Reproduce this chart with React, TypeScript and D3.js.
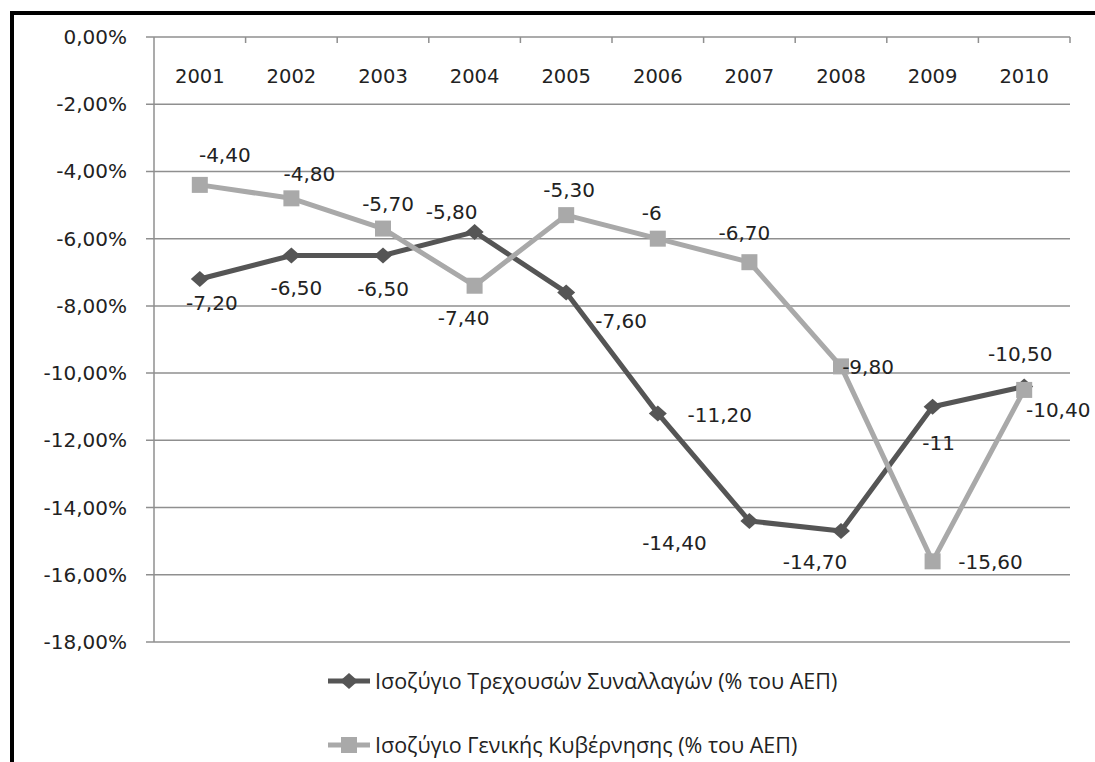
import React from "react";
import * as d3 from "d3";

const years = ["2001", "2002", "2003", "2004", "2005", "2006", "2007", "2008", "2009", "2010"];
const currentAccount = [-7.2, -6.5, -6.5, -5.8, -7.6, -11.2, -14.4, -14.7, -11, -10.4];
const govBalance = [-4.4, -4.8, -5.7, -7.4, -5.3, -6, -6.7, -9.8, -15.6, -10.5];
const yTicks = [0, -2, -4, -6, -8, -10, -12, -14, -16, -18];
const seriesNames = [
  "Ισοζύγιο Τρεχουσών Συναλλαγών (% του ΑΕΠ)",
  "Ισοζύγιο Γενικής Κυβέρνησης (% του ΑΕΠ)",
];

// label offsets (layout only) relative to the point
const caOffsets: [number, number][] = [
  [12, 24], [5, 33], [0, 34], [-23, -20], [55, 29], [62, 2], [-75, 22], [-26, 31], [6, 36], [34, 23],
];
const gvOffsets: [number, number][] = [
  [25, -30], [18, -24], [5, -25], [-11, 32], [3, -25], [-6, -26], [-5, -29], [27, 1], [58, 1], [-4, -36],
];

const W = 1095;
const H = 762;
const left = 154;
const right = 1070;
const top = 37;
const bottom = 642;

const fmt = (v: number) =>
  Number.isInteger(v) ? String(v) : v.toFixed(2).replace(".", ",");

export default function App() {
  const x = d3.scaleBand<string>().domain(years).range([left, right]);
  const y = d3.scaleLinear().domain([-18, 0]).range([bottom, top]);
  const cx = (i: number) => (x(years[i]) as number) + x.bandwidth() / 2;
  const line = d3
    .line<number>()
    .x((_, i) => cx(i))
    .y((d) => y(d));

  const dark = "#555555";
  const light = "#a9a9a9";
  const grid = "#8f8f8f";
  const font = "DejaVu Sans";
  const legendFont = "Open Sans";

  const diamond = (px: number, py: number, sx: number, sy: number) =>
    `M${px},${py - sy}L${px + sx},${py}L${px},${py + sy}L${px - sx},${py}Z`;

  return (
    <svg
      width={W}
      height={H}
      style={{ position: "absolute", left: 0, top: 0, background: "#fff" }}
    >
      <rect x={0} y={0} width={W} height={H} fill="#fff" />
      {/* frame */}
      <line x1={10} x2={W} y1={13} y2={13} stroke="#000" strokeWidth={4} />
      <line x1={12} x2={12} y1={11} y2={H} stroke="#000" strokeWidth={4} />

      {/* gridlines */}
      {yTicks.map((t) => (
        <g key={t}>
          <line x1={left - 8} x2={right} y1={y(t)} y2={y(t)} stroke={grid} strokeWidth={1.5} />
          <text
            x={127}
            y={y(t)}
            dy="0.35em"
            textAnchor="end"
            fontFamily={font}
            fontSize={20}
            fill="#222"
          >
            {t.toFixed(2).replace(".", ",") + "%"}
          </text>
        </g>
      ))}
      <line x1={left} x2={left} y1={top} y2={bottom} stroke={grid} strokeWidth={1.5} />
      {/* category ticks on top axis */}
      {years.map((yr, i) => (
        <g key={yr}>
          <line
            x1={(x(yr) as number) + x.bandwidth()}
            x2={(x(yr) as number) + x.bandwidth()}
            y1={top}
            y2={top + 6}
            stroke={grid}
            strokeWidth={1.5}
          />
          <text
            x={cx(i)}
            y={76}
            dy="0.35em"
            textAnchor="middle"
            fontFamily={font}
            fontSize={19.5}
            fill="#222"
          >
            {yr}
          </text>
        </g>
      ))}

      {/* current account line */}
      <path d={line(currentAccount) as string} fill="none" stroke={dark} strokeWidth={5} strokeLinejoin="round" />
      {currentAccount.map((v, i) => (
        <path key={i} d={diamond(cx(i), y(v), 9, 8)} fill={dark} />
      ))}

      {/* gov line */}
      <path d={line(govBalance) as string} fill="none" stroke={light} strokeWidth={5} strokeLinejoin="round" />
      {govBalance.map((v, i) => (
        <rect key={i} x={cx(i) - 8} y={y(v) - 8} width={16} height={16} fill={light} />
      ))}

      {/* labels */}
      {currentAccount.map((v, i) => (
        <text
          key={"c" + i}
          x={cx(i) + caOffsets[i][0]}
          y={y(v) + caOffsets[i][1]}
          dy="0.35em"
          textAnchor="middle"
          fontFamily={font}
          fontSize={20}
          fill="#222"
        >
          {fmt(v)}
        </text>
      ))}
      {govBalance.map((v, i) => (
        <text
          key={"g" + i}
          x={cx(i) + gvOffsets[i][0]}
          y={y(v) + gvOffsets[i][1]}
          dy="0.35em"
          textAnchor="middle"
          fontFamily={font}
          fontSize={20}
          fill="#222"
        >
          {fmt(v)}
        </text>
      ))}

      {/* legend */}
      {seriesNames.map((name, i) => {
        const ly = i === 0 ? 681 : 745;
        const col = i === 0 ? dark : light;
        return (
          <g key={name}>
            <line x1={328} x2={370} y1={ly} y2={ly} stroke={col} strokeWidth={5} />
            {i === 0 ? (
              <path d={diamond(349, ly, 9, 8)} fill={col} />
            ) : (
              <rect x={341} y={ly - 8} width={16} height={16} fill={col} />
            )}
            <text
              x={375}
              y={ly}
              dy="0.35em"
              fontFamily={legendFont}
              fontSize={21.5}
              fill="#222"
            >
              {name}
            </text>
          </g>
        );
      })}
    </svg>
  );
}
